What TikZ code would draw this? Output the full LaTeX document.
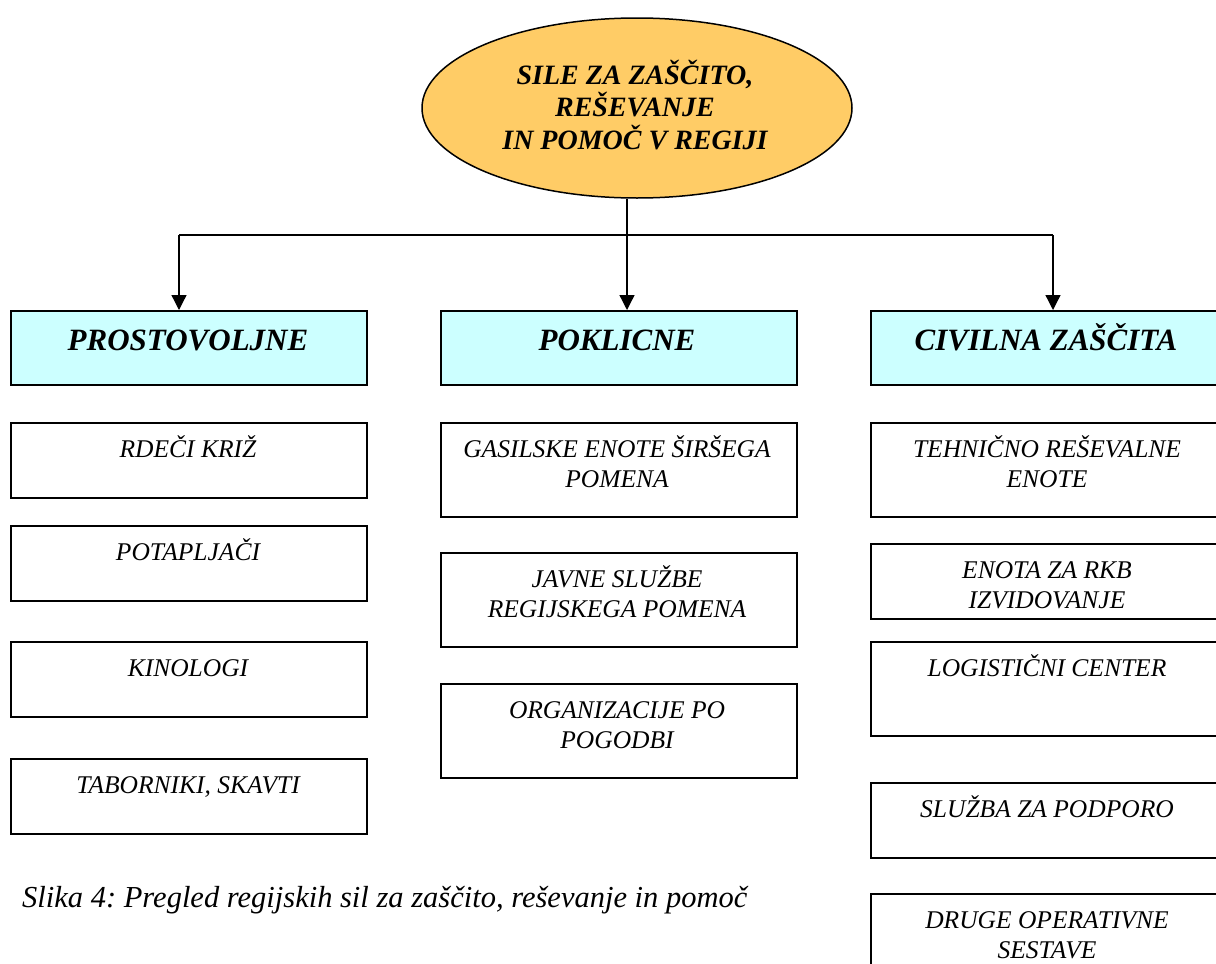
\documentclass[tikz,border=0pt]{standalone}
\usepackage{fontspec}
\setmainfont{Liberation Serif}
\usetikzlibrary{shapes.geometric,arrows.meta}
\definecolor{ellfill}{HTML}{FFCC66}
\definecolor{headfill}{HTML}{CCFFFF}
\frenchspacing
\begin{document}
\begin{tikzpicture}[x=1pt,y=1pt,
  headbox/.style={draw, line width=1.6pt, fill=headfill, minimum width=356pt, minimum height=74pt, anchor=north west, inner sep=0pt},
  wbox/.style={draw, line width=1.6pt, fill=white, minimum width=356pt, anchor=north west, inner sep=0pt},
  headtext/.style={font=\fontsize{31}{34}\selectfont\bfseries\itshape, inner sep=0pt, anchor=base},
  wtext/.style={font=\fontsize{25.5}{30}\selectfont\itshape, align=center, inner sep=0pt, anchor=base},
  conn/.style={line width=1.3pt},
  arr/.style={line width=1.3pt, -{Triangle[width=15pt,length=15pt]}}
]
\useasboundingbox (0,0) rectangle (1216,-964);
\begin{scope}
\clip (0,0) rectangle (1216,-964);
% ellipse
\node[ellipse, draw, line width=1.5pt, fill=ellfill, minimum width=430pt, minimum height=180pt, inner sep=0pt] (top) at (637,-108) {};
\node[font=\fontsize{28}{32.5}\selectfont\bfseries\itshape, align=center, inner sep=0pt, anchor=base] (toptext) at (635,-149) {SILE ZA ZAŠČITO,\\REŠEVANJE\\IN POMOČ V REGIJI};
% headers
\node[headbox] (hp) at (10,-310) {};
\node[headbox] (hk) at (440,-310) {};
\node[headbox] (hc) at (870,-310) {};
\node[headtext] (hpt) at (188,-350) {PROSTOVOLJNE};
\node[headtext] (hkt) at (617,-350) {POKLICNE};
\node[headtext] (hct) at (1046,-350) {CIVILNA ZAŠČITA};
% connectors
\coordinate (jm) at (627,-235);
\coordinate (jl) at (179,-235);
\coordinate (jr) at (1053,-235);
\draw[conn] (top.south -| jm) -- (jm);
\draw[conn] (jl) -- (jr);
\draw[arr] (jl) -- (hp.north -| jl);
\draw[arr] (jm) -- (hk.north -| jm);
\draw[arr] (jr) -- (hc.north -| jr);
% left column
\node[wbox, minimum height=75pt] (l1) at (10,-422) {};
\node[wbox, minimum height=75pt] (l2) at (10,-525) {};
\node[wbox, minimum height=75pt] (l3) at (10,-641) {};
\node[wbox, minimum height=75pt] (l4) at (10,-758) {};
\node[wtext] (l1t) at (188,-457) {RDEČI KRIŽ};
\node[wtext] (l2t) at (188,-560) {POTAPLJAČI};
\node[wtext] (l3t) at (188,-676) {KINOLOGI};
\node[wtext] (l4t) at (188,-793) {TABORNIKI, SKAVTI};
% middle column
\node[wbox, minimum height=94pt] (m1) at (440,-422) {};
\node[wbox, minimum height=94pt] (m2) at (440,-552) {};
\node[wbox, minimum height=94pt] (m3) at (440,-683) {};
\node[wtext] (m1t) at (617,-487) {GASILSKE ENOTE ŠIRŠEGA\\POMENA};
\node[wtext] (m2t) at (617,-617) {JAVNE SLUŽBE\\REGIJSKEGA POMENA};
\node[wtext] (m3t) at (617,-748) {ORGANIZACIJE PO\\POGODBI};
% right column
\node[wbox, minimum height=94pt] (r1) at (870,-422) {};
\node[wbox, minimum height=75pt] (r2) at (870,-543) {};
\node[wbox, minimum height=94pt] (r3) at (870,-641) {};
\node[wbox, minimum height=75pt] (r4) at (870,-782) {};
\node[wbox, minimum height=94pt] (r5) at (870,-893) {};
\node[wtext] (r1t) at (1047,-487) {TEHNIČNO REŠEVALNE\\ENOTE};
\node[wtext] (r2t) at (1047,-608) {ENOTA ZA RKB\\IZVIDOVANJE};
\node[wtext] (r3t) at (1047,-676) {LOGISTIČNI CENTER};
\node[wtext] (r4t) at (1047,-817) {SLUŽBA ZA PODPORO};
\node[wtext] (r5t) at (1047,-958) {DRUGE OPERATIVNE\\SESTAVE};
% caption
\node[font=\fontsize{30.5}{34}\selectfont\itshape, inner sep=0pt, anchor=base west] (cap) at (22,-907) {Slika 4: Pregled regijskih sil za zaščito, reševanje in pomoč};
\end{scope}
\end{tikzpicture}
\end{document}
